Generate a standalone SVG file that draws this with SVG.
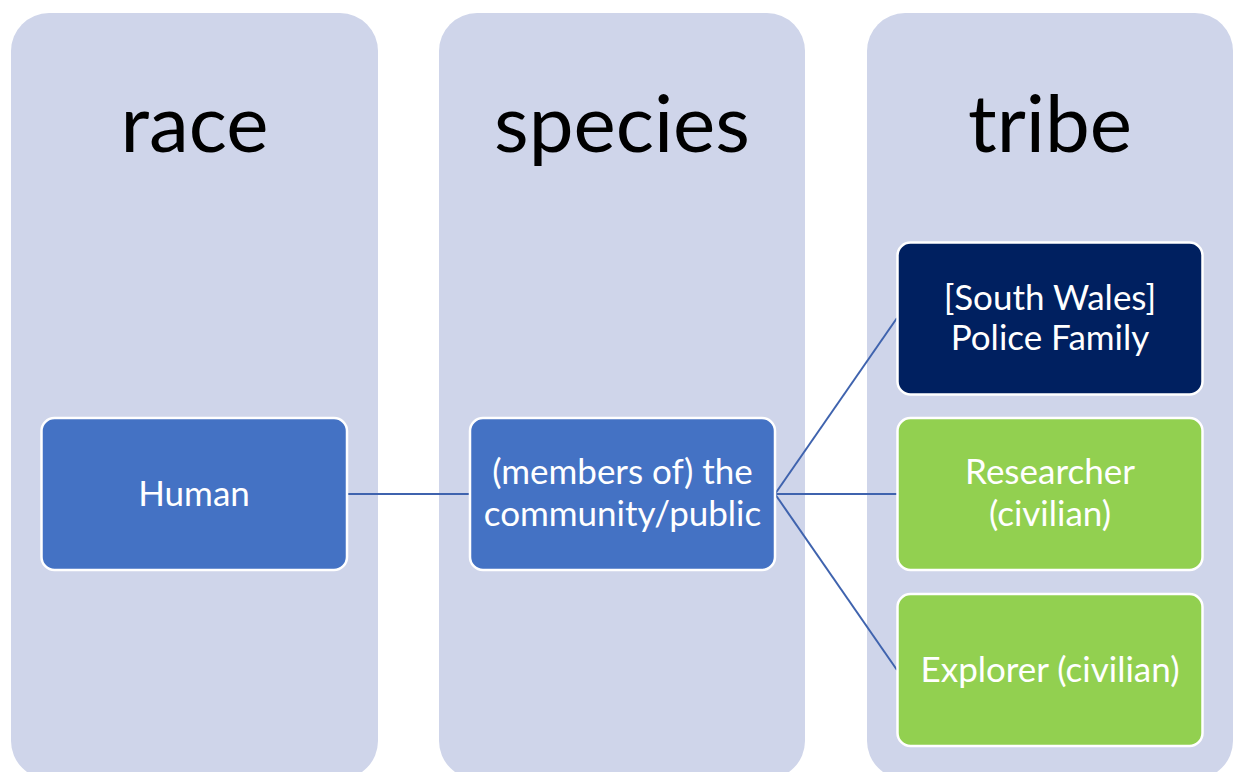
<svg xmlns="http://www.w3.org/2000/svg" width="1235" height="772" viewBox="0 0 1235 772">
<style>
.col{fill:#CFD5EA}
.box{stroke:#FFFFFF;stroke-width:2.5}
.title{font-family:Lato,"Open Sans",sans-serif;font-size:80px;fill:#000000;text-anchor:middle}
.lbl{font-family:Lato,"Open Sans",sans-serif;font-size:35px;fill:#FFFFFF;text-anchor:middle}
.conn{stroke:#3F63AE;stroke-width:2;fill:none}
</style>
<rect width="1235" height="772" fill="#FFFFFF"/>
<g id="col-race"><rect class="col" x="11" y="13" width="367" height="766" rx="38"/><text class="title" x="194.5" y="152">race</text></g>
<g id="col-species"><rect class="col" x="439" y="13" width="366" height="766" rx="38"/><text class="title" x="622" y="152">species</text></g>
<g id="col-tribe"><rect class="col" x="867" y="13" width="366" height="766" rx="38"/><text class="title" x="1050" y="152">tribe</text></g>
<g id="connectors">
<line class="conn" x1="347" y1="494" x2="470" y2="494"/>
<line class="conn" x1="775" y1="494" x2="897" y2="318"/>
<line class="conn" x1="775" y1="494" x2="897" y2="494"/>
<line class="conn" x1="775" y1="494" x2="897" y2="670"/>
</g>
<g id="human"><rect class="box" x="41.5" y="418" width="305.5" height="152" rx="13" fill="#4472C4"/><text class="lbl" x="194" y="506">Human</text></g>
<g id="community"><rect class="box" x="470" y="418" width="305" height="152" rx="13" fill="#4472C4"/><text class="lbl" x="622.5" y="484">(members of) the</text><text class="lbl" x="622.5" y="526">community/public</text></g>
<g id="police"><rect class="box" x="897.5" y="242.5" width="305" height="152" rx="13" fill="#002060"/><text class="lbl" x="1050" y="310">[South Wales]</text><text class="lbl" x="1050" y="350">Police Family</text></g>
<g id="researcher"><rect class="box" x="897.5" y="418" width="305" height="152" rx="13" fill="#92D050"/><text class="lbl" x="1050" y="484">Researcher</text><text class="lbl" x="1050" y="526">(civilian)</text></g>
<g id="explorer"><rect class="box" x="897.5" y="594" width="305" height="152" rx="13" fill="#92D050"/><text class="lbl" x="1050" y="682">Explorer (civilian)</text></g>
</svg>
